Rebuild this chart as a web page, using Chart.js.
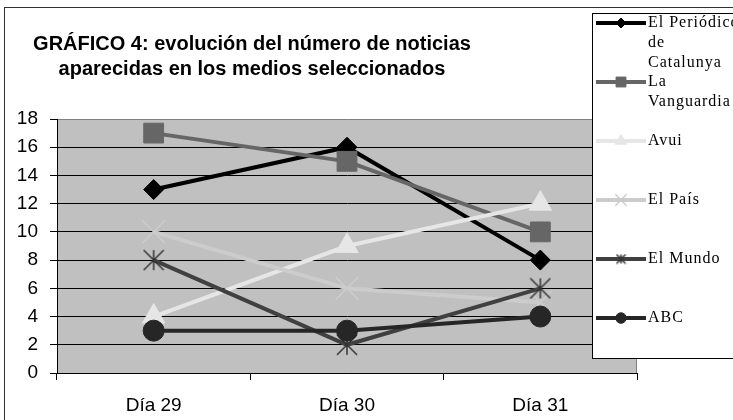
<!DOCTYPE html>
<html>
<head>
<meta charset="utf-8">
<script src="https://cdn.jsdelivr.net/npm/chart.js@4"></script>
<style>
  html, body { margin: 0; padding: 0; background: #fff; }
  #wrap { width: 733px; height: 420px; }
</style>
</head>
<body>
<div id="wrap"><canvas id="mediaChart" width="733" height="420"></canvas></div>
<script>
// data
const days = ['Día 29', 'Día 30', 'Día 31'];
const elPeriodico = [13, 16, 8];
const laVanguardia = [17, 15, 10];
const avui = [4, 9, 12];
const elPais = [10, 6, 5];
const elMundo = [8, 2, 6];
const abc = [3, 3, 4];

const titleLines = ['GRÁFICO 4: evolución del número de noticias', 'aparecidas en los medios seleccionados'];
const legendLines = [['El Periódico', 'de', 'Catalunya'], ['La', 'Vanguardia'], ['Avui'], ['El País'], ['El Mundo'], ['ABC']];

// asterisk marker (vertical bar + X), Excel style
function makeAsterisk(size, color, lw) {
  const c = document.createElement('canvas');
  c.width = size;
  c.height = size;
  const g = c.getContext('2d');
  g.strokeStyle = color;
  g.lineWidth = lw;
  const m = size / 2, e = 1;
  g.beginPath();
  g.moveTo(m, e); g.lineTo(m, size - e);
  g.moveTo(e, e); g.lineTo(size - e, size - e);
  g.moveTo(size - e, e); g.lineTo(e, size - e);
  g.stroke();
  return c;
}

function series(label, data, color, style, radius, bw) {
  return {
    label: label,
    data: data,
    borderColor: color,
    backgroundColor: color,
    pointBackgroundColor: color,
    pointBorderColor: color,
    pointBorderWidth: bw,
    pointStyle: style,
    pointRadius: radius,
    borderWidth: 4,
    tension: 0,
    fill: false
  };
}

const datasets = [
  series('El Periódico de Catalunya', elPeriodico, '#000000', 'rectRot', 10, 1),
  series('La Vanguardia', laVanguardia, '#666666', 'rect', 14, 1),
  series('Avui', avui, '#e6e6e6', 'triangle', 13, 1),
  series('El País', elPais, '#cccccc', 'crossRot', 16, 1.5),
  series('El Mundo', elMundo, '#404040', makeAsterisk(22, '#333333', 1.5), 11, 1),
  series('ABC', abc, '#262626', 'circle', 10.5, 1)
];
datasets[4].legendMarker = makeAsterisk(11, '#333333', 1.5);
// later series drawn on top, like the original
datasets.forEach((d, i) => { d.order = datasets.length - 1 - i; });

const framePlugin = {
  id: 'frame',
  beforeDraw(chart) {
    const ctx = chart.ctx;
    const a = chart.chartArea;
    ctx.save();
    ctx.fillStyle = '#fff';
    ctx.fillRect(0, 0, chart.width, chart.height);
    ctx.strokeStyle = '#333';
    ctx.lineWidth = 1;
    ctx.strokeRect(4.5, 7.5, chart.width + 20, chart.height + 20);
    ctx.fillStyle = '#c0c0c0';
    ctx.fillRect(a.left, a.top, a.right - a.left, a.bottom - a.top);
    ctx.strokeStyle = '#808080';
    ctx.beginPath();
    ctx.moveTo(a.right - 0.5, a.top);
    ctx.lineTo(a.right - 0.5, a.bottom);
    ctx.stroke();
    ctx.fillStyle = '#000';
    ctx.font = 'bold 20px "Liberation Sans", Arial, sans-serif';
    ctx.textAlign = 'center';
    ctx.textBaseline = 'alphabetic';
    titleLines.forEach((t, i) => ctx.fillText(t, 252, 50 + i * 25));
    ctx.restore();
  },
  afterDraw(chart) {
    const ctx = chart.ctx;
    ctx.save();
    ctx.fillStyle = '#fff';
    ctx.fillRect(592, 13, 200, 345);
    ctx.strokeStyle = '#000';
    ctx.lineWidth = 1;
    ctx.strokeRect(592.5, 13.5, 200, 345);
    ctx.font = '16px "Liberation Serif", "Times New Roman", serif';
    ctx.letterSpacing = '1px';
    ctx.textAlign = 'left';
    ctx.textBaseline = 'middle';
    chart.data.datasets.forEach((ds, i) => {
      const y = 23 + i * 59;
      ctx.strokeStyle = ds.borderColor;
      ctx.lineWidth = 4;
      ctx.beginPath();
      ctx.moveTo(596, y);
      ctx.lineTo(646, y);
      ctx.stroke();
      ctx.fillStyle = ds.pointBackgroundColor;
      ctx.strokeStyle = ds.pointBorderColor;
      ctx.lineWidth = ds.pointBorderWidth;
      Chart.helpers.drawPoint(ctx, {
        pointStyle: ds.legendMarker || ds.pointStyle,
        radius: ds.pointRadius * 0.5,
        rotation: 0,
        borderWidth: ds.pointBorderWidth
      }, 621, y);
      ctx.fillStyle = '#000';
      legendLines[i].forEach((t, j) => ctx.fillText(t, 648, y + j * 20));
    });
    ctx.restore();
  }
};

const ctx = document.getElementById('mediaChart').getContext('2d');
const mediaChart = new Chart(ctx, {
  type: 'line',
  data: { labels: days, datasets: datasets },
  plugins: [framePlugin],
  options: {
    responsive: false,
    animation: false,
    events: [],
    layout: { padding: { top: 119, right: 96, left: 0, bottom: 0 } },
    plugins: {
      legend: { display: false },
      title: { display: false },
      tooltip: { enabled: false }
    },
    scales: {
      x: {
        offset: true,
        grid: { offset: true, drawOnChartArea: false, drawTicks: true, tickLength: 7, color: '#000' },
        border: { color: '#000', width: 1 },
        ticks: { color: '#000', padding: 14, font: { family: '"Liberation Sans", Arial, sans-serif', size: 19 } },
        afterFit(scale) { scale.height = 47; }
      },
      y: {
        min: 0,
        max: 18,
        ticks: { stepSize: 2, color: '#000', padding: 12, font: { family: '"Liberation Sans", Arial, sans-serif', size: 19 } },
        grid: {
          color: (c) => (c.tick && c.tick.value === 18 ? '#808080' : '#000'),
          tickColor: '#000',
          tickLength: 7,
          lineWidth: 1
        },
        border: { color: '#000', width: 1 },
        afterFit(scale) { scale.width = 57; }
      }
    }
  }
});
</script>
</body>
</html>
